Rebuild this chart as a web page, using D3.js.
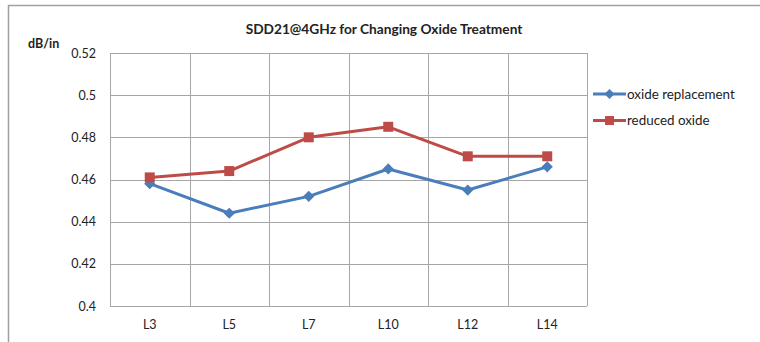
<!DOCTYPE html>
<html>
<head>
<meta charset="utf-8">
<script src="https://cdn.jsdelivr.net/npm/d3@7"></script>
<style>
  html, body { margin: 0; padding: 0; background: #fff; }
  svg { display: block; font-family: Lato, "Liberation Sans", sans-serif; }
</style>
</head>
<body>
<svg id="chart" width="760" height="342"></svg>
<script>
// Layer names along the x axis
const layers = ["L3", "L5", "L7", "L10", "L12", "L14"];
// SDD21 loss at 4 GHz, dB/in
const oxideReplacement = [0.458, 0.444, 0.452, 0.465, 0.455, 0.466];
const reducedOxide = [0.461, 0.464, 0.480, 0.485, 0.471, 0.471];
const yTicks = [0.4, 0.42, 0.44, 0.46, 0.48, 0.5, 0.52];
const seriesNames = ["oxide replacement", "reduced oxide"];

const svg = d3.select("#chart");
const plot = { left: 110, right: 587, top: 53, bottom: 306 };
const grid = "#a6a6a6";

// outer chart frame
svg.append("path")
  .attr("d", "M8.5,342 V5.5 H760")
  .attr("fill", "none").attr("stroke", "#a0a0a0").attr("stroke-width", 1.5);

const x = d3.scaleBand().domain(layers).range([plot.left, plot.right]).padding(0);
const y = d3.scaleLinear().domain([0.4, 0.52]).range([plot.bottom, plot.top]);

// horizontal gridlines
svg.append("g")
  .attr("transform", `translate(${plot.left},0)`)
  .call(d3.axisLeft(y).tickValues(yTicks).tickSize(-(plot.right - plot.left)).tickFormat(""))
  .call(g => g.select(".domain").remove())
  .call(g => g.selectAll("line").attr("stroke", grid).attr("shape-rendering", "crispEdges"));

// vertical gridlines at category boundaries
const bounds = layers.map(d => x(d)).concat([plot.right]);
svg.append("g").selectAll("line").data(bounds).join("line")
  .attr("x1", d => Math.round(d) + 0.5).attr("x2", d => Math.round(d) + 0.5)
  .attr("y1", plot.top).attr("y2", plot.bottom)
  .attr("stroke", grid).attr("stroke-width", 1);

// y tick labels
svg.append("g")
  .attr("transform", `translate(${plot.left},0)`)
  .call(d3.axisLeft(y).tickValues(yTicks).tickSize(0).tickPadding(14).tickFormat(d => String(+d.toFixed(2))))
  .call(g => g.select(".domain").remove())
  .call(g => g.selectAll("text").attr("fill", "#222").attr("font-size", 12.5)
    .attr("font-family", "Lato, 'Liberation Sans', sans-serif"));

// x tick labels
svg.append("g")
  .attr("transform", `translate(0,${plot.bottom})`)
  .call(d3.axisBottom(x).tickSize(0).tickPadding(14))
  .call(g => g.select(".domain").remove())
  .call(g => g.selectAll("text").attr("fill", "#222").attr("font-size", 12.5)
    .attr("font-family", "Lato, 'Liberation Sans', sans-serif"));

// title and unit label
svg.append("text").attr("x", 384).attr("y", 34).attr("text-anchor", "middle")
  .attr("font-size", 13.7).attr("font-weight", "bold").attr("fill", "#222")
  .text("SDD21@4GHz for Changing Oxide Treatment");
svg.append("text").attr("x", 28).attr("y", 48)
  .attr("font-size", 12.5).attr("font-weight", "bold").attr("fill", "#222")
  .text("dB/in");

const cx = d => x(d) + x.bandwidth() / 2;
const series = [
  { name: seriesNames[0], values: oxideReplacement, color: "#4a7ebb", shape: d3.symbolDiamond2, size: 80 },
  { name: seriesNames[1], values: reducedOxide, color: "#be4b48", shape: d3.symbolSquare, size: 100 }
];

const line = d3.line().x(d => cx(d.k)).y(d => y(d.v));
series.forEach(s => {
  const pts = layers.map((k, i) => ({ k, v: s.values[i] }));
  svg.append("path").datum(pts).attr("d", line)
    .attr("fill", "none").attr("stroke", s.color).attr("stroke-width", 3)
    .attr("stroke-linejoin", "round");
  svg.append("g").selectAll("path").data(pts).join("path")
    .attr("transform", d => `translate(${cx(d.k)},${y(d.v)})`)
    .attr("d", d3.symbol(s.shape, s.size))
    .attr("fill", s.color);
});

// legend
const legend = svg.append("g");
series.forEach((s, i) => {
  const ly = 94 + i * 26.5;
  legend.append("line").attr("x1", 593).attr("x2", 626).attr("y1", ly).attr("y2", ly)
    .attr("stroke", s.color).attr("stroke-width", 3);
  legend.append("path").attr("transform", `translate(609.5,${ly})`)
    .attr("d", d3.symbol(s.shape, s.size * 0.8))
    .attr("fill", s.color);
  legend.append("text").attr("x", 627).attr("y", ly + 4.5)
    .attr("font-size", 13.4).attr("fill", "#222").text(s.name);
});
</script>
</body>
</html>
